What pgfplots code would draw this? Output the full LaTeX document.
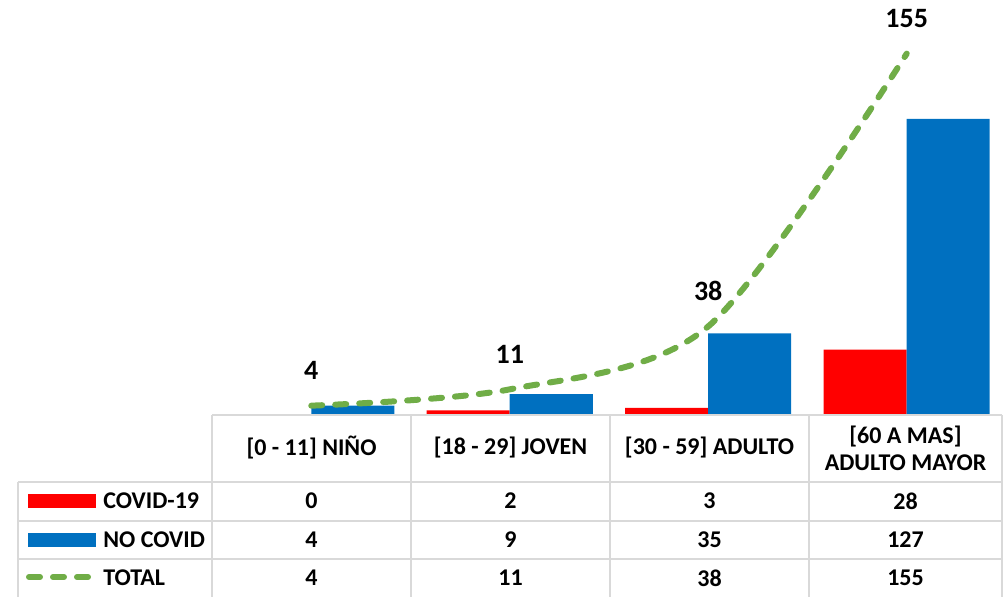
\documentclass[border=0pt]{standalone}
\usepackage{fontspec}
\setmainfont{Carlito}
\usepackage{pgfplots}
\pgfplotsset{compat=1.18}
\definecolor{cred}{HTML}{FF0000}
\definecolor{cblue}{HTML}{0070C0}
\definecolor{cgreen}{HTML}{70AD47}
\definecolor{cgrid}{HTML}{D9D9D9}
\begin{document}
\begin{tikzpicture}[x=1pt,y=1pt]
\useasboundingbox (0,0) rectangle (502,298.5);
\begin{axis}[
  at={(106pt,91pt)}, anchor=south west,
  scale only axis, width=395pt, height=207.5pt,
  xmin=-0.5, xmax=3.48, ymin=0, ymax=178,
  axis lines=none, clip=false,
  /pgf/number format/assume math mode=true,
  ]
\addplot[ybar, bar width=41.5pt, bar shift=-20.75pt, fill=cred, draw=none] coordinates {(0,0) (1,2) (2,3) (3,28)};
\addplot[ybar, bar width=41.5pt, bar shift=20.75pt, fill=cblue, draw=none] coordinates {(0,4) (1,9) (2,35) (3,127)};
\addplot[cgreen, line width=3pt, smooth, line cap=round, dash pattern=on 5.5pt off 6.5pt,
  nodes near coords,
  nodes near coords style={text=black, font=\fontsize{14}{16}\selectfont\bfseries, anchor=center, yshift=17.5pt}]
  coordinates {(0,4) (1,11) (2,38) (3,155)};
\end{axis}
% table grid
\begin{scope}[draw=cgrid, line width=0.8pt]
\draw (106,91) -- (501,91);
\draw (9,57.5) -- (501,57.5);
\draw (9,38) -- (501,38);
\draw (9,19) -- (501,19);
\draw (9,0) -- (9,57.5);
\draw (106,0) -- (106,91);
\draw (205.5,0) -- (205.5,91);
\draw (305,0) -- (305,91);
\draw (404.5,0) -- (404.5,91);
\draw (501,0) -- (501,91);
\end{scope}
\begin{scope}[font=\fontsize{12}{13.5}\selectfont\bfseries]
\node at (155.75,74.5) {[0 - 11] NIÑO};
\node at (255.25,74.5) {[18 - 29] JOVEN};
\node at (354.75,74.5) {[30 - 59] ADULTO};
\node[align=center] at (452.75,74.5) {[60 A MAS]\\ADULTO MAYOR};
% legend keys
\fill[cred] (14,44.5) rectangle (48,51.5);
\fill[cblue] (14,25) rectangle (48,32);
\draw[cgreen, line width=3pt, line cap=round, dash pattern=on 5.5pt off 6.5pt] (14.5,10) -- (44,10);
\node[anchor=west, inner sep=0pt] at (51.5,48) {COVID-19};
\node[anchor=west, inner sep=0pt] at (51.5,28.5) {NO COVID};
\node[anchor=west, inner sep=0pt] at (51.5,9.5) {TOTAL};
% values
\node at (155.75,48) {0};
\node at (255.25,48) {2};
\node at (354.75,48) {3};
\node at (452.75,48) {28};
\node at (155.75,28.5) {4};
\node at (255.25,28.5) {9};
\node at (354.75,28.5) {35};
\node at (452.75,28.5) {127};
\node at (155.75,9.5) {4};
\node at (255.25,9.5) {11};
\node at (354.75,9.5) {38};
\node at (452.75,9.5) {155};
\end{scope}
\end{tikzpicture}
\end{document}
